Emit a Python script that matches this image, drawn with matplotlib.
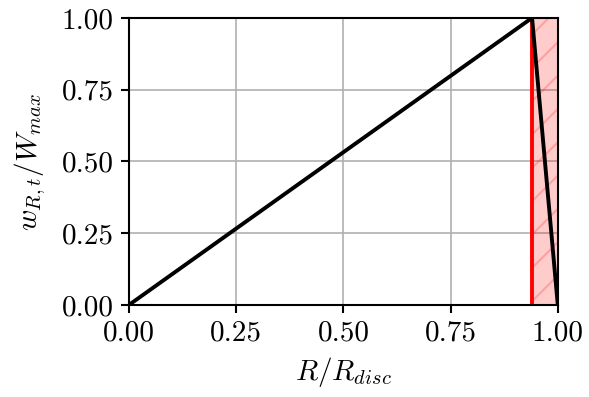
import numpy as np
import matplotlib
matplotlib.use('Agg')
import matplotlib.pyplot as plt
from matplotlib.ticker import FormatStrFormatter

plt.rcParams['font.family'] = 'serif'
plt.rcParams['font.serif'] = ['cmr10']
plt.rcParams['mathtext.fontset'] = 'cm'
plt.rcParams['axes.formatter.use_mathtext'] = True
plt.rcParams['font.size'] = 21
plt.rcParams['hatch.linewidth'] = 1.5

# disc radial profile: linear rise then sharp drop at the edge
r_profile = [0.0, 0.94, 1.0]
w_profile = [0.0, 1.0, 0.0]
r_cut = 0.94
ticks = [0.0, 0.25, 0.5, 0.75, 1.0]

fig = plt.figure(figsize=(5.89, 3.97), dpi=100)
ax = fig.add_axes([0.219, 0.232, 0.728, 0.723])

ax.axvspan(r_cut, 1.0, facecolor=(1, 0, 0, 0.2), edgecolor=(1, 0, 0, 0.22),
           hatch='/', linewidth=0, zorder=1)
ax.axvline(r_cut, color='red', linewidth=2.8, zorder=2)
ax.plot(r_profile, w_profile, color='black', linewidth=2.8, zorder=3)

ax.set_xlim(0, 1)
ax.set_ylim(0, 1)
ax.set_xticks(ticks)
ax.set_yticks(ticks)
ax.xaxis.set_major_formatter(FormatStrFormatter('%.2f'))
ax.yaxis.set_major_formatter(FormatStrFormatter('%.2f'))
ax.grid(True, color='#b0b0b0', linewidth=1.2, zorder=0)
ax.set_axisbelow(True)
for s in ax.spines.values():
    s.set_linewidth(1.5)
ax.tick_params(width=1.5, length=6, labelsize=21, pad=5)

ax.set_xlabel(r'$R/R_{disc}$', fontsize=21, labelpad=6)
ax.set_ylabel(r'$w_{R,t}/W_{max}$', fontsize=21, labelpad=10)

fig.savefig('out.png', dpi=100)
